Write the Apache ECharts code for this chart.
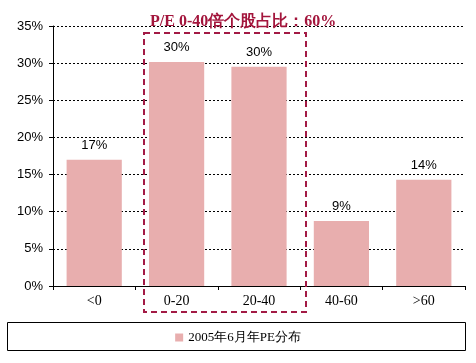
<!DOCTYPE html>
<html>
<head>
<meta charset="utf-8">
<script src="https://cdn.jsdelivr.net/npm/echarts@6/dist/echarts.min.js"></script>
<style>html,body{margin:0;padding:0;background:#fff}#c{width:476px;height:363px}</style>
</head>
<body>
<div id="c"></div>
<script>
const categories = ['<0', '0-20', '20-40', '40-60', '>60'];
const values = [17.0, 30.15, 29.5, 8.75, 14.3];
const labels = ['17%', '30%', '30%', '9%', '14%'];
const seriesName = '2005年6月年PE分布';
const titleText = 'P/E 0-40倍个股占比：60%';

const chart = echarts.init(document.getElementById('c'), null, {renderer: 'canvas'});
chart.setOption({
  animation: false,
  backgroundColor: '#fff',
  title: {
    text: titleText, left: 145, top: 9,
    textStyle: {fontFamily: 'Liberation Serif, serif', fontWeight: 'bold', fontSize: 16, color: '#a3153c'}
  },
  grid: {left: 53, right: 11, top: 26, bottom: 77, containLabel: false},
  legend: {
    data: [seriesName], bottom: 14, left: 'center',
    itemWidth: 8, itemHeight: 8, itemGap: 4,
    icon: 'rect',
    textStyle: {fontFamily: 'Liberation Serif, serif', fontSize: 13, color: '#000'}
  },
  xAxis: {
    type: 'category', data: categories,
    axisLine: {lineStyle: {color: '#000', width: 1}},
    axisTick: {show: true, length: 4, lineStyle: {color: '#000'}},
    axisLabel: {fontFamily: 'Liberation Serif, serif', fontSize: 14, color: '#000', margin: 8}
  },
  yAxis: {
    type: 'value', min: 0, max: 35, interval: 5,
    axisLine: {show: true, lineStyle: {color: '#000', width: 1}},
    axisTick: {show: true, length: 4, lineStyle: {color: '#000'}},
    axisLabel: {formatter: '{value}%', fontFamily: 'Liberation Sans, Arial, sans-serif', fontSize: 13, color: '#000', margin: 10},
    splitLine: {show: true, lineStyle: {color: '#000', type: [2, 2], width: 1}}
  },
  series: [{
    name: seriesName, type: 'bar', data: values, barWidth: '67%',
    itemStyle: {color: '#e8aeae'},
    label: {
      show: true, position: 'top', distance: 8,
      formatter: p => labels[p.dataIndex],
      fontFamily: 'Liberation Sans, Arial, sans-serif', fontSize: 13, color: '#000'
    }
  }],
  graphic: [
    {type: 'rect', shape: {x: 7.5, y: 322.5, width: 458, height: 28}, style: {fill: null, stroke: '#000', lineWidth: 1}, z: -1},
    {type: 'rect', shape: {x: 144, y: 33, width: 162, height: 279}, style: {fill: null, stroke: '#a31a45', lineWidth: 2, lineDash: [6, 4]}, z: 10}
  ]
});
</script>
</body>
</html>
